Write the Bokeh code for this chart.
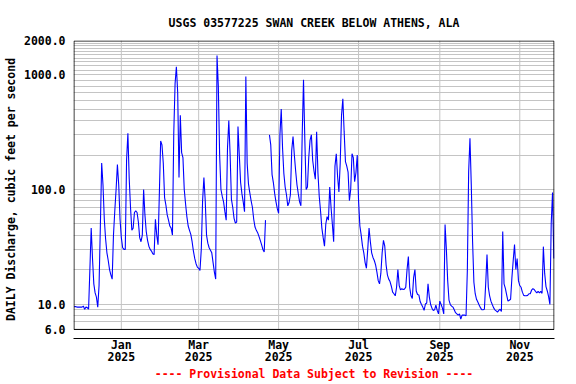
import numpy as np
import pandas as pd
from bokeh.plotting import figure
from bokeh.models import (FixedTicker, BoxAnnotation, Range1d, ColumnDataSource,
                          DatetimeAxis)
from bokeh.embed import file_html
from bokeh.resources import INLINE

# ---------------- data (daily mean discharge, cfs) ----------------
series_start = "2024-11-26"
flow_2024_nov = [9.5, 9.5, 9.4, 9.4, 9.4]
flow_2024_dec = [9.4, 9.4, 9.6, 9.0, 9.4, 9.3, 9.0, 20, 46, 25,
                 15, 12.5, 11.5, 9.4, 14.5, 48, 170, 110, 55, 37,
                 28, 24, 20, 18, 16.5, 40, 65, 100, 165, 110, 55]
flow_2025_jan = [38, 31, 30, 30, 182, 310, 125, 70, 44, 46,
                 63, 65, 63, 52, 38, 35, 40, 100, 60, 43,
                 36, 32, 30, 29, 27.5, 27, 55, 40, 33, 92, 265]
flow_2025_feb = [245, 170, 85, 73, 60, 54, 48, 46, 40, 310,
                 840, 1180, 700, 127, 445, 210, 190, 100, 75, 58,
                 48, 44, 40.5, 35, 29, 25, 22.5, 21]
flow_2025_mar = [20.5, 19.6, 30, 80, 127, 80, 40, 34, 31, 29.5,
                 28, 23, 19, 16.5, 1480, 800, 200, 100, 87, 78,
                 64, 54, 230, 400, 200, 82, 70, 56, 51, 52, 355]
flow_2025_apr = [200, 115, 92, 78, 64, 970, 170, 112, 94, 80,
                 70, 55, 47, 44, 42, 39, 36, 33, 30, 28.5,
                 54, np.nan, np.nan, 300, 245, 135, 115, 92, 78, 68]
flow_2025_may = [62, 300, 505, 230, 138, 105, 90, 72, 77, 90,
                 220, 290, 200, 145, 110, 92, 78, 72, 300, 910,
                 270, 100, 105, 190, 270, 300, 180, 145, 123, 320, 140]
flow_2025_jun = [87, 65, 46, 38, 32, 50, 58, 54, 105, 70,
                 50, 35, 160, 205, 130, 95, 170, 445, 620, 320,
                 175, 160, 142, 80, 100, 205, 190, 117, 140, 200]
flow_2025_jul = [80, 48, 40, 32, 28, 23, 20.5, 30, 46, 35,
                 28, 25.5, 24, 22, 19, 16, 15, 18.5, 28, 36,
                 32, 22, 18, 16.5, 15.7, 14.3, 12.7, 12.3, 11.8, 14, 20]
flow_2025_aug = [14.5, 13.3, 13.6, 13.4, 13.5, 14, 20, 26, 14, 11.8,
                 11.2, 17, 20, 13, 12.1, 12, 10.5, 9.9, 9.4, 8.8,
                 10, 10.2, 15, 11.5, 9.9, 9.2, 8.8, 8.9, 9.8, 8.8, 8.2]
flow_2025_sep = [10.6, 9.9, 9.2, 8.2, 49.5, 30, 16, 10.8, 9.9, 9.6,
                 9.4, 8.9, 8.4, 8.2, 8.0, 8.2, 7.4, 8.0, 8.0, 8.0,
                 7.9, 19.6, 143, 280, 110, 35, 15.5, 12.3, 11, 10.4]
flow_2025_oct = [9.8, 9.3, 8.9, 8.9, 9.0, 15, 27, 14, 11.8, 10.6,
                 9.9, 9.3, 8.9, 8.7, 8.5, 8.8, 9.0, 8.6, 43, 15,
                 13.7, 12, 10.6, 10.8, 11, 17, 24, 33, 20, 25, 16]
flow_2025_nov = [14.5, 14, 12.7, 11.9, 11.8, 11.8, 11.9, 12.3, 12.3, 13.2,
                 13.6, 13.4, 12.9, 12.5, 12.9, 12.5, 12.9, 12.4, 31.7, 18.5,
                 14.2, 13, 11.6, 9.9, 51, 94, 25]

x_tick_dates = ["2025-01-01", "2025-03-01", "2025-05-01",
                "2025-07-01", "2025-09-01", "2025-11-01"]
x_tick_months = ["Jan", "Mar", "May", "Jul", "Sep", "Nov"]
x_tick_years = ["2025", "2025", "2025", "2025", "2025", "2025"]
y_tick_values = [6, 10, 100, 1000, 2000]
y_tick_labels = ["6.0", "10.0", "100.0", "1000.0", "2000.0"]

title_text = "USGS 03577225 SWAN CREEK BELOW ATHENS, ALA"
y_label = "DAILY Discharge, cubic feet per second"
footer_text = "---- Provisional Data Subject to Revision ----"

# ---------------- build ----------------
flow = (flow_2024_nov + flow_2024_dec + flow_2025_jan + flow_2025_feb +
        flow_2025_mar + flow_2025_apr + flow_2025_may + flow_2025_jun +
        flow_2025_jul + flow_2025_aug + flow_2025_sep + flow_2025_oct +
        flow_2025_nov)
dates = pd.date_range(series_start, periods=len(flow), freq="D")
src = ColumnDataSource(dict(date=dates, flow=np.array(flow, dtype=float)))

FONT = "DejaVu Sans Mono"
FSIZE = "11.5px"
GRID = "#c4c4c4"

x_start = pd.Timestamp("2024-11-25 12:00")
x_end = pd.Timestamp("2025-11-27 12:00")
y_bottom_box, y_top = 6, 2000

BL, BR, BT, BB = 72, 22, 40, 46
W, H = 576, 384

p = figure(width=W, height=H, x_axis_type="datetime", y_axis_type="log",
           x_range=Range1d(x_start, x_end), y_range=Range1d(5.0, y_top),
           output_backend="svg", toolbar_location=None,
           min_border_left=BL, min_border_right=BR,
           min_border_top=BT, min_border_bottom=BB)

p.background_fill_color = "white"
p.border_fill_color = "white"
p.outline_line_color = None

# title
p.title.text = title_text
p.title.align = "center"
p.title.text_font = FONT
p.title.text_font_size = FSIZE
p.title.text_font_style = "bold"
p.title.text_color = "black"
p.title.standoff = 21

# horizontal grid (log minor lines)
grid_vals = [m * 10 ** e for e in range(0, 3) for m in range(1, 10)]
grid_vals = [g for g in grid_vals if g >= 6] + [1000 + 100 * k for k in range(0, 11)]
p.ygrid.ticker = FixedTicker(ticks=grid_vals)
p.ygrid.grid_line_color = GRID
p.ygrid.grid_line_width = 1
p.xgrid.visible = False

tick_ts = [pd.Timestamp(d) for d in x_tick_dates]
p.segment(x0=tick_ts, y0=[y_bottom_box] * len(tick_ts), x1=tick_ts,
          y1=[y_top] * len(tick_ts), line_color=GRID, line_width=1)

# data
p.line("date", "flow", source=src, line_color="#0000ff", line_width=1.1)

# frame box (inset half a pixel so the 1px border is not clipped)
half_px_day = pd.Timedelta(hours=9)
p.add_layout(BoxAnnotation(left=x_start + half_px_day, right=x_end - half_px_day,
                           bottom=y_bottom_box, top=y_top * 0.99,
                           fill_color=None, line_color="black",
                           line_alpha=1, line_width=1))

# y axis
p.yaxis.ticker = FixedTicker(ticks=y_tick_values)
p.yaxis.major_label_overrides = {v: s for v, s in zip(y_tick_values, y_tick_labels)}
p.yaxis.axis_line_color = None
p.yaxis.major_tick_line_color = None
p.yaxis.minor_tick_line_color = None
p.yaxis.major_tick_out = 0
p.yaxis.major_tick_in = 0
p.yaxis.minor_tick_out = 0
p.yaxis.major_label_standoff = 8
p.yaxis.major_label_text_font = FONT
p.yaxis.major_label_text_font_size = FSIZE
p.yaxis.major_label_text_font_style = "bold"
p.yaxis.major_label_text_color = "black"
p.yaxis.axis_label = y_label
p.yaxis.axis_label_text_font = FONT
p.yaxis.axis_label_text_font_size = FSIZE
p.yaxis.axis_label_text_font_style = "bold"
p.yaxis.axis_label_text_color = "black"
p.yaxis.axis_label_standoff = 3

# x axis: months (with axis line)
tick_ms = [t.value / 1e6 for t in tick_ts]
xa = p.xaxis[0]
xa.ticker = FixedTicker(ticks=tick_ms)
xa.major_label_overrides = {v: s for v, s in zip(tick_ms, x_tick_months)}
xa.axis_line_color = "black"
xa.axis_line_width = 1
xa.major_tick_line_color = None
xa.minor_tick_line_color = None
xa.major_tick_out = 0
xa.major_tick_in = 0
xa.minor_tick_out = 0
xa.major_label_standoff = -1
xa.major_label_text_font = FONT
xa.major_label_text_font_size = FSIZE
xa.major_label_text_font_style = "bold"
xa.major_label_text_color = "black"

# x axis: years + footer
xb = DatetimeAxis(ticker=FixedTicker(ticks=tick_ms),
                  major_label_overrides={v: s for v, s in zip(tick_ms, x_tick_years)})
xb.axis_line_color = None
xb.major_tick_line_color = None
xb.minor_tick_line_color = None
xb.major_tick_out = 0
xb.major_tick_in = 0
xb.minor_tick_out = 0
xb.major_label_standoff = -3
xb.major_label_text_font = FONT
xb.major_label_text_font_size = FSIZE
xb.major_label_text_font_style = "bold"
xb.major_label_text_color = "black"
xb.axis_label = footer_text
xb.axis_label_text_font = FONT
xb.axis_label_text_font_size = FSIZE
xb.axis_label_text_font_style = "bold"
xb.axis_label_text_color = "#ff0000"
xb.axis_label_standoff = 3
p.add_layout(xb, "below")

open("out.html", "w").write(file_html(p, INLINE))
